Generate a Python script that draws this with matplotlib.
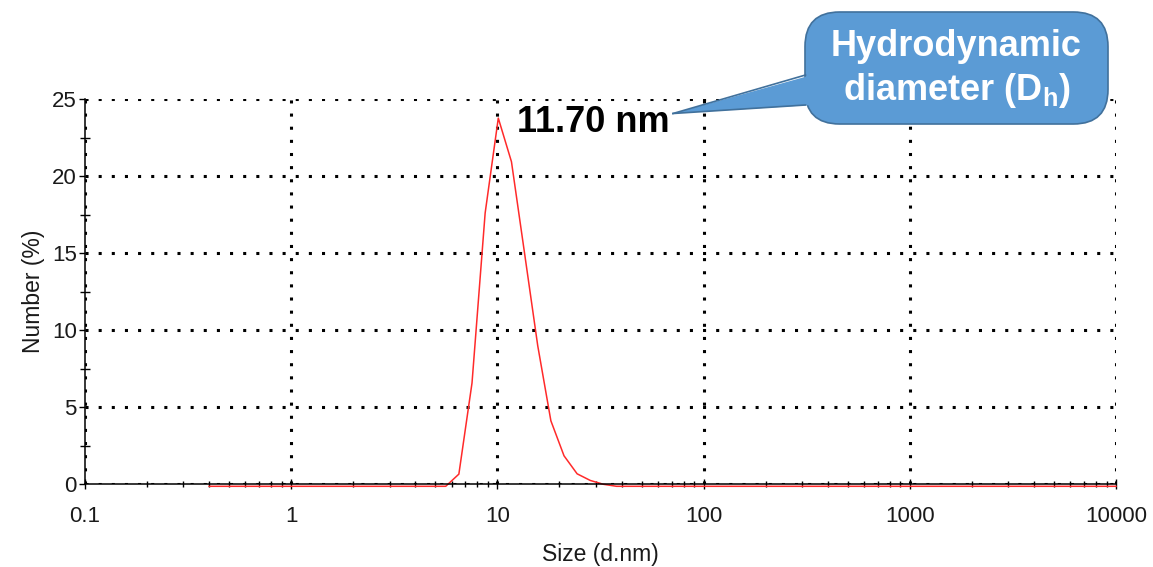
import matplotlib
matplotlib.use("Agg")
import matplotlib.pyplot as plt
import matplotlib.transforms as mtransforms
from matplotlib.patches import FancyBboxPatch, Polygon
from matplotlib.ticker import LogLocator, MultipleLocator, FixedLocator, FixedFormatter, NullFormatter

plt.rcParams['font.family'] = ['Liberation Sans', 'DejaVu Sans']
plt.rcParams['mathtext.fontset'] = 'custom'
plt.rcParams['mathtext.rm'] = 'Liberation Sans'
plt.rcParams['mathtext.bf'] = 'Liberation Sans:bold'

# size distribution by number (bins with non-zero population plus the range ends)
size_nm = [0.4, 5.615, 6.503, 7.531, 8.721, 10.10, 11.70, 13.54, 15.69,
           18.17, 21.04, 24.36, 28.21, 32.67, 37.84, 10000]
number_pct = [0, 0, 0.79, 6.70, 17.73, 23.89, 21.06, 15.13, 9.12,
              4.25, 1.98, 0.81, 0.38, 0.13, 0, 0]

xticks = [0.1, 1, 10, 100, 1000, 10000]
xticklabels = ["0.1", "1", "10", "100", "1000", "10000"]
yticks = [0, 5, 10, 15, 20, 25]
peak_label = "11.70 nm"

W, H = 1153, 567
fig = plt.figure(figsize=(W / 100, H / 100), dpi=100)
ax = fig.add_axes([85 / W, 1 - 484.3 / H, (1116 - 85) / W, (484.3 - 99) / H])

# red trace sits a touch below the baseline so the axis stays visible
shift = mtransforms.offset_copy(ax.transData, fig=fig, x=0, y=-2, units='dots')
ax.plot(size_nm, number_pct, color='#ff2a2a', lw=1.1, transform=shift,
        clip_on=False, zorder=2)

ax.set_xscale('log')
ax.set_xlim(0.1, 10000)
ax.set_ylim(0, 25)
ax.xaxis.set_major_locator(FixedLocator(xticks))
ax.xaxis.set_major_formatter(FixedFormatter(xticklabels))
ax.xaxis.set_minor_locator(LogLocator(base=10, subs=range(2, 10), numticks=20))
ax.xaxis.set_minor_formatter(NullFormatter())
ax.set_yticks(yticks)
ax.yaxis.set_minor_locator(MultipleLocator(2.5))

for s in ['top', 'right']:
    ax.spines[s].set_visible(False)
for s in ['left', 'bottom']:
    ax.spines[s].set_linewidth(1.1)
    ax.spines[s].set_zorder(3)

ax.tick_params(axis='x', which='major', direction='inout', length=7, width=1,
               labelsize=16, pad=12, labelcolor='#1a1a1a')
ax.tick_params(axis='x', which='minor', direction='inout', length=5, width=1)
ax.tick_params(axis='y', which='major', direction='out', length=4, width=1,
               labelsize=16, pad=2, labelcolor='#1a1a1a')
ax.tick_params(axis='y', which='minor', direction='inout', length=7, width=1)

ax.grid(True, which='major', color='black', lw=2.2, linestyle=(0, (1, 3.3)))

ax.set_xlabel("Size (d.nm)", fontsize=16.5, color='#1a1a1a', labelpad=12)
ax.set_ylabel("Number (%)", fontsize=16.5, color='#1a1a1a', labelpad=5)

ax.text(517 / W, 1 - 123 / H, peak_label, transform=fig.transFigure,
        fontsize=26, fontweight='bold', ha='left', va='center')

# callout box with pointer
box_color = '#5b9bd5'
edge_color = '#41719c'
bx0, bx1, by0, by1 = 805, 1108, 12, 124
box = FancyBboxPatch((bx0 / W, 1 - by1 / H), (bx1 - bx0) / W, (by1 - by0) / H,
                     boxstyle="round,pad=0,rounding_size=0.03",
                     mutation_aspect=W / H,
                     transform=fig.transFigure, facecolor=box_color,
                     edgecolor=edge_color, lw=1.2, zorder=5)
fig.patches.append(box)
tip = (673 / W, 1 - 113.5 / H)
up = (805.5 / W, 1 - 75 / H)
lo = (805.5 / W, 1 - 105 / H)
wedge = Polygon([tip, (812 / W, 1 - 75 / H), (812 / W, 1 - 105 / H)], closed=True,
                transform=fig.transFigure, facecolor=box_color,
                edgecolor='none', zorder=6)
fig.patches.append(wedge)
for p in (up, lo):
    fig.lines.append(plt.Line2D([tip[0], p[0]], [tip[1], p[1]],
                                transform=fig.transFigure, color=edge_color,
                                lw=1.2, zorder=7))

cx = (bx0 + bx1) / 2 / W
fig.text(cx, 1 - 47 / H, "Hydrodynamic", color='white', fontsize=26,
         fontweight='bold', ha='center', va='center', zorder=8)
fig.text(cx, 1 - 90 / H, "diameter (D$_\\mathbf{h}$)", color='white', fontsize=26,
         fontweight='bold', ha='center', va='center', zorder=8)

fig.savefig('out.png', dpi=100)
